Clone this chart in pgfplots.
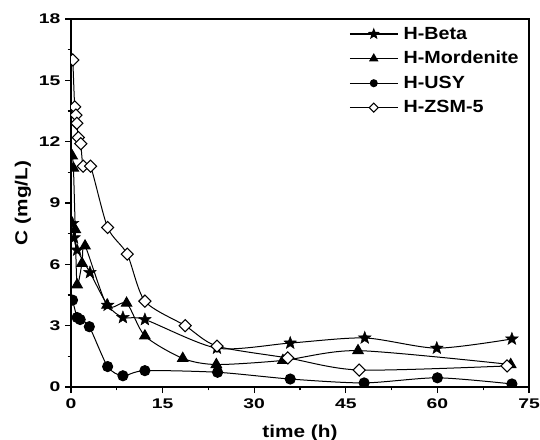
\documentclass[border=0pt]{standalone}
\usepackage{fontspec}
\setmainfont{Liberation Sans}
\newfontfamily\tickfont{Liberation Sans}[FakeStretch=1.38]
\newfontfamily\labfont{Liberation Sans}[FakeStretch=1.2]
\newfontfamily\legfont{Liberation Sans}[FakeStretch=1.12]
\usepackage{pgfplots}
\pgfplotsset{compat=1.18}

% filled five-point star mark
\pgfdeclareplotmark{fstar}{%
  \pgfpathmoveto{\pgfpointpolar{90}{\pgfplotmarksize}}%
  \pgfpathlineto{\pgfpointpolar{126}{0.42\pgfplotmarksize}}%
  \pgfpathlineto{\pgfpointpolar{162}{\pgfplotmarksize}}%
  \pgfpathlineto{\pgfpointpolar{198}{0.42\pgfplotmarksize}}%
  \pgfpathlineto{\pgfpointpolar{234}{\pgfplotmarksize}}%
  \pgfpathlineto{\pgfpointpolar{270}{0.42\pgfplotmarksize}}%
  \pgfpathlineto{\pgfpointpolar{306}{\pgfplotmarksize}}%
  \pgfpathlineto{\pgfpointpolar{342}{0.42\pgfplotmarksize}}%
  \pgfpathlineto{\pgfpointpolar{18}{\pgfplotmarksize}}%
  \pgfpathlineto{\pgfpointpolar{54}{0.42\pgfplotmarksize}}%
  \pgfpathclose
  \pgfusepathqfillstroke
}

\begin{document}
\begin{tikzpicture}
\begin{axis}[
    scale only axis,
    width=343.5pt, height=276pt,
    xmin=0, xmax=75, ymin=0, ymax=18,
    xtick={0,15,...,75}, ytick={0,3,...,18},
    minor tick num=1,
    tick align=outside, tick pos=left,
    major tick length=4.5pt, minor tick length=2.5pt,
    axis line style={line width=1.1pt},
    every tick/.style={line width=0.9pt, black},
    ticklabel style={font=\tickfont\fontsize{10.5}{12}\selectfont\bfseries},
    xticklabel style={yshift=-1pt},
    /pgf/number format/assume math mode=true,
    xlabel={time (h)}, ylabel={C (mg/L)},
    label style={font=\labfont\fontsize{13}{15}\selectfont\bfseries},
    xlabel style={yshift=-5pt},
    ylabel style={yshift=-1pt},
    clip marker paths=true,
    legend style={draw=none, fill=none, at={(0.604,0.99)}, anchor=north west,
        font=\legfont\fontsize{13.2}{15}\selectfont\bfseries, row sep=3.6pt,
        inner sep=1pt, nodes={inner xsep=4pt}},
    legend cell align=left,
    legend image code/.code={\draw[mark repeat=2, mark phase=2, line width=0.8pt]
        plot coordinates {(0pt,0pt) (18pt,0pt) (36pt,0pt)};},
    every axis plot/.append style={black, line width=0.75pt, smooth, tension=0.45},
]
\addlegendimage{black, mark=fstar, mark size=3.6pt}
\addlegendentry{H-Beta}
\addlegendimage{black, mark=triangle*, mark size=3.3pt}
\addlegendentry{H-Mordenite}
\addlegendimage{black, mark=*, mark size=2.6pt}
\addlegendentry{H-USY}
\addlegendimage{black, mark=square*, mark size=2.4pt, mark options={fill=white, rotate=45, line width=0.8pt}}
\addlegendentry{H-ZSM-5}

% H-Beta
\addplot[forget plot, mark=fstar, mark size=5pt, mark options={line width=0.3pt}] coordinates {
(0.25,8.0) (0.5,7.3) (1.0,6.7) (3.1,5.6) (6.0,4.0) (8.5,3.4) (12.1,3.3)
(23.9,1.9) (35.9,2.15) (48.1,2.4) (59.9,1.9) (72.2,2.35)};
% H-Mordenite
\addplot[forget plot, mark=triangle*, mark size=4.5pt] coordinates {
(0.2,11.3) (0.4,10.7) (0.7,7.7) (1.0,5.0) (1.8,6.05) (2.3,6.9) (5.9,4.0)
(9.1,4.1) (12.1,2.5) (18.3,1.4) (23.8,1.1) (34.7,1.3) (47,1.78) (72,1.1)};
% H-USY
\addplot[forget plot, mark=*, mark size=3.8pt] coordinates {
(0.25,4.25) (1.0,3.4) (1.5,3.3) (3.0,2.95) (6.0,1.0) (8.5,0.55) (12.1,0.8)
(24,0.72) (35.9,0.39) (48,0.2) (60,0.45) (72.2,0.15)};
% H-ZSM-5
\addplot[forget plot, mark=square*, mark size=3.2pt, mark options={fill=white, rotate=45, line width=0.8pt}] coordinates {
(0.3,16.0) (0.6,13.7) (0.8,13.3) (0.95,12.9) (1.2,12.2) (1.6,11.9) (2.0,10.8)
(3.2,10.8) (6.0,7.8) (9.2,6.5) (12.1,4.2) (18.7,3.0) (23.9,2.0) (35.5,1.42)
(47.2,0.83) (71.4,1.03)};
\end{axis}
\pgfresetboundingbox
\path[use as bounding box] ([shift={(-53.25pt,-39pt)}]current axis.south west)
  rectangle ([shift={(8.25pt,14.25pt)}]current axis.north east);
\end{tikzpicture}
\end{document}
